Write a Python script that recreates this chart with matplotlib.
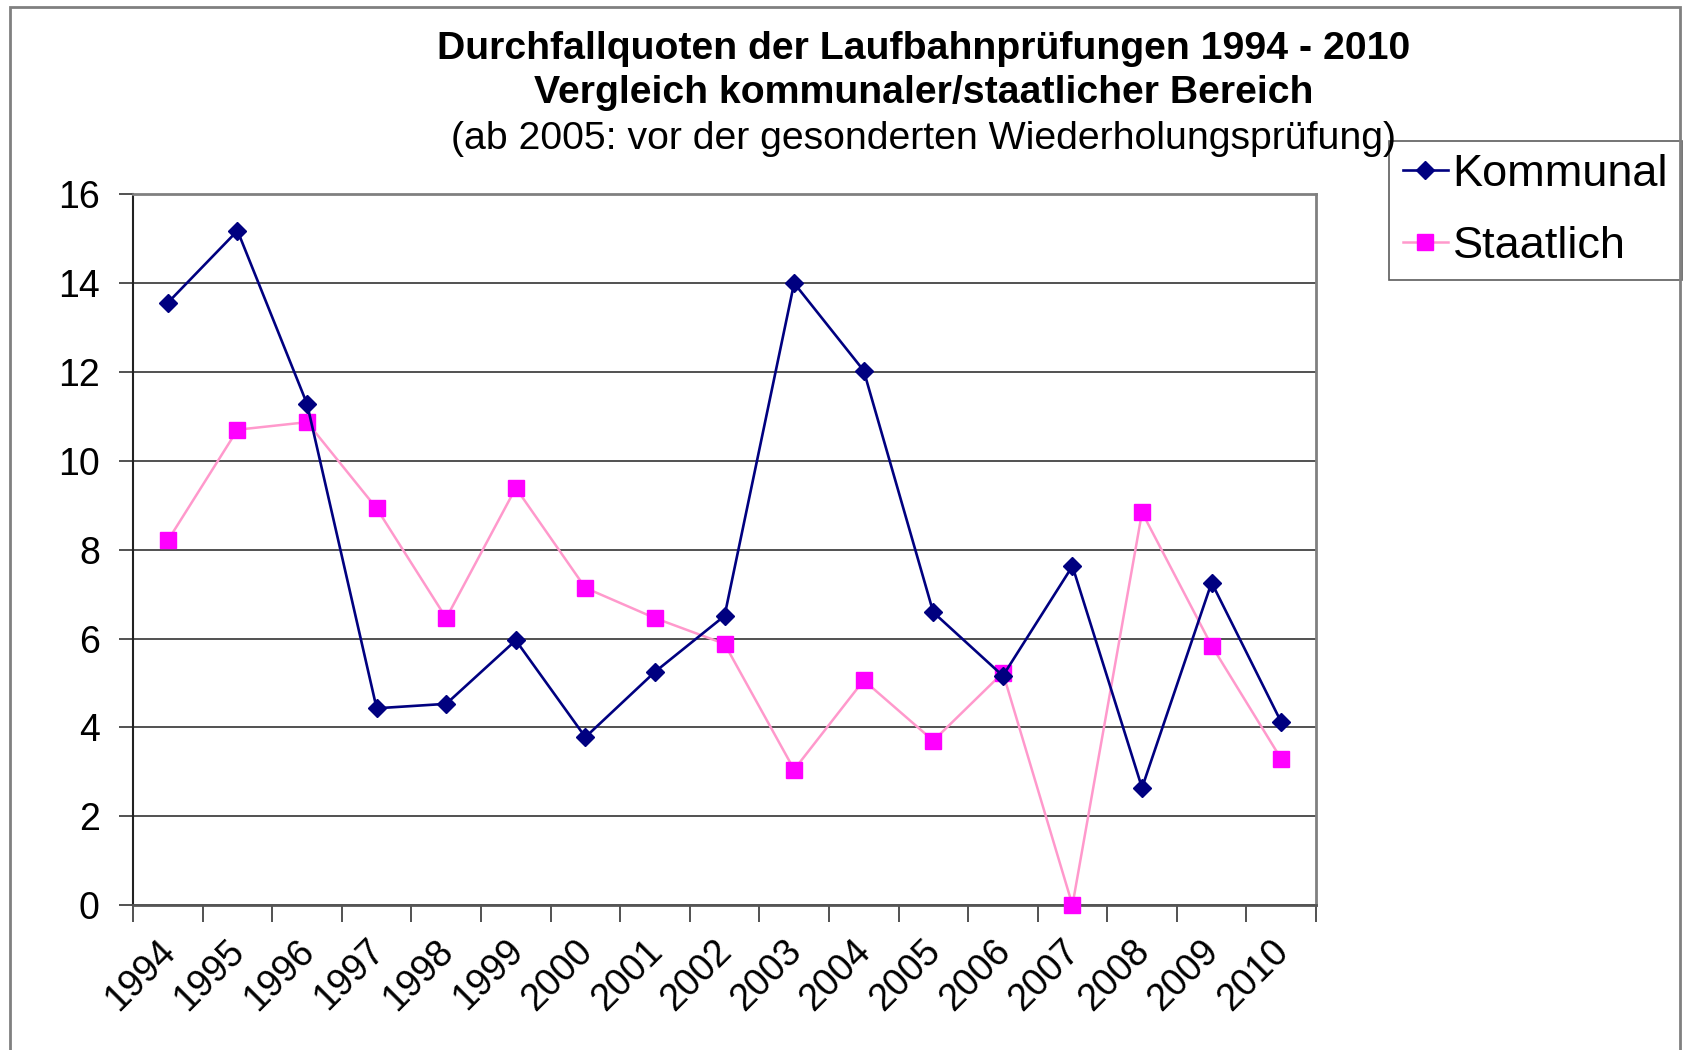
import numpy as np
import matplotlib
matplotlib.use('Agg')
import matplotlib.pyplot as plt
from matplotlib.patches import Rectangle
from matplotlib.transforms import ScaledTranslation

plt.rcParams['font.family'] = ['Liberation Sans', 'DejaVu Sans']

years = ['1994', '1995', '1996', '1997', '1998', '1999', '2000', '2001', '2002',
         '2003', '2004', '2005', '2006', '2007', '2008', '2009', '2010']
kommunal = [13.56, 15.18, 11.28, 4.43, 4.53, 5.96, 3.78, 5.25, 6.51,
            14.0, 12.03, 6.59, 5.16, 7.63, 2.64, 7.26, 4.12]
staatlich = [8.21, 10.70, 10.87, 8.93, 6.46, 9.39, 7.14, 6.46, 5.88,
             3.05, 5.06, 3.70, 5.23, 0.0, 8.84, 5.84, 3.29]

fig = plt.figure(figsize=(16.85, 10.5), dpi=100)
ax = fig.add_axes([0.079, 0.138, 0.702, 0.677])

x = np.arange(len(years))
ax.plot(x, kommunal, color='#000080', lw=1.9, marker='D', ms=9,
        mfc='#000080', mec='#000080', label='Kommunal', zorder=4, clip_on=False)
ax.plot(x, staatlich, color='#FF99CC', lw=1.8, marker='s', ms=11,
        mfc='#FF00FF', mec='#FF00FF', label='Staatlich', zorder=3, clip_on=False)

ax.set_xlim(-0.5, len(years) - 0.5)
ax.set_ylim(0, 16)
ax.set_yticks(np.arange(0, 17, 2))
ax.yaxis.grid(True, color='#333333', lw=1.2)
ax.set_axisbelow(True)

ax.set_xticks(x)
ax.set_xticklabels(years, rotation=45, ha='right', va='top', rotation_mode='anchor')
ax.set_xticks(np.arange(-0.5, len(years), 1), minor=True)
ax.tick_params(axis='x', which='major', length=0, pad=20, labelsize=27)
ax.tick_params(axis='x', which='minor', length=12, width=1.2, color='#333333')
ax.tick_params(axis='y', length=10, width=1.2, color='#333333', labelsize=27, pad=14)

# shift the slanted year labels a little to the left, as in the original
shift = ScaledTranslation(-0.11, 0, fig.dpi_scale_trans)
for lab in ax.get_xticklabels():
    lab.set_transform(lab.get_transform() + shift)

for side in ['top', 'right']:
    ax.spines[side].set_color('#808080')
    ax.spines[side].set_linewidth(2)
ax.spines['left'].set_color('#222222')
ax.spines['left'].set_linewidth(1.5)
ax.spines['bottom'].set_color('#555555')
ax.spines['bottom'].set_linewidth(2)

fig.text(0.548, 0.953, 'Durchfallquoten der Laufbahnprüfungen 1994 - 2010',
         ha='center', va='center', fontsize=28.3, weight='bold')
fig.text(0.548, 0.911, 'Vergleich kommunaler/staatlicher Bereich',
         ha='center', va='center', fontsize=28.3, weight='bold')
fig.text(0.548, 0.868, '(ab 2005: vor der gesonderten Wiederholungsprüfung)',
         ha='center', va='center', fontsize=28.3)

leg = ax.legend(loc='upper left', bbox_to_anchor=(0.8245, 0.866),
                bbox_transform=fig.transFigure, fontsize=32.5, frameon=True,
                fancybox=False, handlelength=1.0, handletextpad=0.1,
                borderpad=0.3, labelspacing=0.68, borderaxespad=0)
leg.get_frame().set_edgecolor('#333333')
leg.get_frame().set_linewidth(1.2)

fig.patches.append(Rectangle((0.006, -0.01), 0.991, 1.003, transform=fig.transFigure,
                             fill=False, edgecolor='#808080', lw=2))

plt.savefig('out.png', dpi=100)
